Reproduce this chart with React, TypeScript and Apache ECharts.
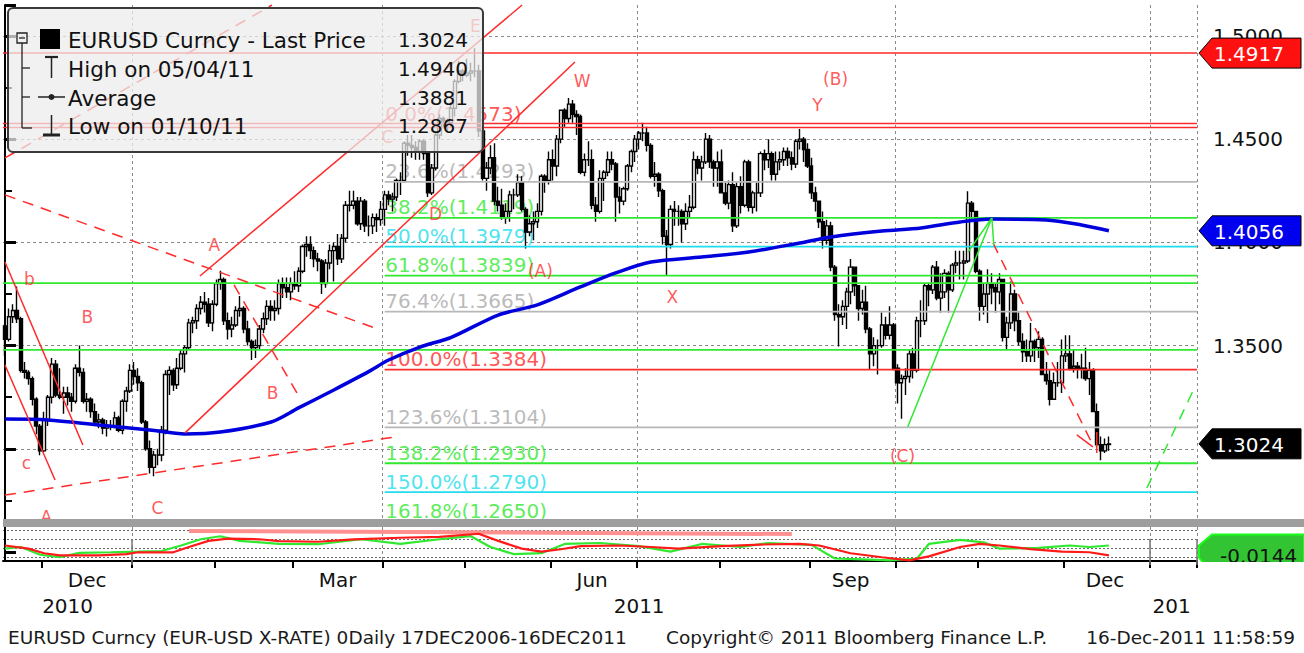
import React, { useEffect, useRef } from "react";
import * as echarts from "echarts";

const FONT_FAMILY = "DejaVu Sans";
const font = (px: number) => `${px}px "${FONT_FAMILY}"`;

// ---------- Daily EURUSD bars, each [open, high, low, close] ----------
const nov2010 = [
  [1.3595, 1.3605, 1.345, 1.353], [1.353, 1.368, 1.352, 1.364], [1.364, 1.37, 1.361, 1.367],
  [1.367, 1.3786, 1.361, 1.363], [1.363, 1.364, 1.337, 1.338], [1.338, 1.342, 1.334, 1.337],
  [1.337, 1.338, 1.331, 1.334], [1.334, 1.335, 1.321, 1.324], [1.324, 1.325, 1.307, 1.311],
  [1.311, 1.312, 1.2969, 1.299],
];
const dec2010 = [
  [1.299, 1.318, 1.2985, 1.314], [1.314, 1.326, 1.311, 1.325], [1.325, 1.344, 1.322, 1.341],
  [1.341, 1.343, 1.325, 1.326], [1.326, 1.339, 1.324, 1.325], [1.325, 1.33, 1.317, 1.327],
  [1.327, 1.33, 1.321, 1.325], [1.325, 1.327, 1.318, 1.323], [1.323, 1.341, 1.322, 1.339],
  [1.339, 1.35, 1.335, 1.337], [1.337, 1.339, 1.322, 1.323], [1.323, 1.327, 1.318, 1.324],
  [1.324, 1.325, 1.315, 1.318], [1.318, 1.322, 1.312, 1.313], [1.313, 1.317, 1.31, 1.314],
  [1.314, 1.315, 1.307, 1.31], [1.31, 1.314, 1.306, 1.311], [1.311, 1.314, 1.309, 1.311],
  [1.311, 1.318, 1.31, 1.315], [1.315, 1.316, 1.308, 1.309], [1.309, 1.324, 1.307, 1.323],
  [1.323, 1.33, 1.318, 1.328], [1.328, 1.341, 1.327, 1.338],
];
const jan2011 = [
  [1.338, 1.342, 1.331, 1.335], [1.335, 1.339, 1.328, 1.332], [1.332, 1.333, 1.312, 1.313],
  [1.313, 1.314, 1.299, 1.3], [1.3, 1.304, 1.288, 1.291], [1.291, 1.299, 1.2867, 1.297],
  [1.297, 1.3, 1.292, 1.297], [1.297, 1.311, 1.294, 1.309], [1.309, 1.338, 1.307, 1.336],
  [1.336, 1.34, 1.326, 1.338], [1.338, 1.339, 1.328, 1.331], [1.331, 1.344, 1.329, 1.339],
  [1.339, 1.348, 1.338, 1.346], [1.346, 1.35, 1.337, 1.349], [1.349, 1.363, 1.348, 1.361],
  [1.361, 1.364, 1.356, 1.362], [1.362, 1.37, 1.358, 1.368], [1.368, 1.374, 1.365, 1.371],
  [1.371, 1.376, 1.366, 1.37], [1.37, 1.373, 1.359, 1.361], [1.361, 1.372, 1.357, 1.37],
];
const feb2011 = [
  [1.37, 1.382, 1.369, 1.38], [1.38, 1.3862, 1.377, 1.382], [1.382, 1.383, 1.36, 1.362],
  [1.362, 1.366, 1.353, 1.358], [1.358, 1.364, 1.354, 1.36], [1.36, 1.369, 1.359, 1.367],
  [1.367, 1.374, 1.364, 1.368], [1.368, 1.369, 1.356, 1.358], [1.358, 1.362, 1.35, 1.352],
  [1.352, 1.353, 1.343, 1.349], [1.349, 1.353, 1.344, 1.35], [1.35, 1.36, 1.348, 1.358],
  [1.358, 1.366, 1.356, 1.363], [1.363, 1.372, 1.36, 1.369], [1.369, 1.372, 1.362, 1.367],
  [1.367, 1.372, 1.362, 1.368], [1.368, 1.382, 1.365, 1.38], [1.38, 1.383, 1.373, 1.378],
  [1.378, 1.383, 1.373, 1.376], [1.376, 1.383, 1.372, 1.38],
];
const mar2011 = [
  [1.38, 1.386, 1.377, 1.379], [1.379, 1.388, 1.376, 1.386], [1.386, 1.399, 1.385, 1.398],
  [1.398, 1.403, 1.393, 1.399], [1.399, 1.403, 1.392, 1.396], [1.396, 1.398, 1.388, 1.392],
  [1.392, 1.395, 1.386, 1.391], [1.391, 1.392, 1.375, 1.38], [1.38, 1.392, 1.378, 1.39],
  [1.39, 1.399, 1.387, 1.396], [1.396, 1.4, 1.381, 1.398], [1.398, 1.404, 1.389, 1.392],
  [1.392, 1.404, 1.39, 1.402], [1.402, 1.42, 1.4, 1.418], [1.418, 1.425, 1.415, 1.418],
  [1.418, 1.425, 1.416, 1.42], [1.42, 1.422, 1.408, 1.409], [1.409, 1.422, 1.406, 1.42],
  [1.42, 1.421, 1.405, 1.408], [1.408, 1.413, 1.403, 1.408], [1.408, 1.414, 1.404, 1.412],
  [1.412, 1.414, 1.405, 1.411], [1.411, 1.42, 1.408, 1.416],
];
const apr2011 = [
  [1.416, 1.425, 1.408, 1.423], [1.423, 1.425, 1.418, 1.421], [1.421, 1.424, 1.415, 1.422],
  [1.422, 1.431, 1.42, 1.43], [1.43, 1.434, 1.423, 1.43], [1.43, 1.449, 1.429, 1.448],
  [1.448, 1.452, 1.442, 1.447], [1.447, 1.452, 1.441, 1.446], [1.446, 1.449, 1.44, 1.444],
  [1.444, 1.45, 1.44, 1.449], [1.449, 1.45, 1.44, 1.443], [1.443, 1.443, 1.422, 1.424],
  [1.424, 1.438, 1.423, 1.436], [1.436, 1.454, 1.435, 1.452], [1.452, 1.462, 1.45, 1.46],
  [1.46, 1.461, 1.456, 1.459], [1.459, 1.46, 1.454, 1.458], [1.458, 1.468, 1.456, 1.465],
  [1.465, 1.479, 1.461, 1.478], [1.478, 1.488, 1.477, 1.483], [1.483, 1.484, 1.478, 1.481],
];
const may2011 = [
  [1.481, 1.489, 1.48, 1.482], [1.482, 1.487, 1.478, 1.483], [1.483, 1.494, 1.48, 1.483],
  [1.483, 1.486, 1.451, 1.454], [1.454, 1.456, 1.43, 1.431], [1.431, 1.439, 1.425, 1.436],
  [1.436, 1.447, 1.433, 1.441], [1.441, 1.448, 1.418, 1.42], [1.42, 1.427, 1.415, 1.418],
  [1.418, 1.426, 1.411, 1.412], [1.412, 1.419, 1.409, 1.415], [1.415, 1.425, 1.41, 1.423],
  [1.423, 1.426, 1.416, 1.423], [1.423, 1.433, 1.422, 1.429], [1.429, 1.432, 1.415, 1.416],
  [1.416, 1.417, 1.397, 1.405], [1.405, 1.413, 1.403, 1.409], [1.409, 1.415, 1.401, 1.41],
  [1.41, 1.419, 1.407, 1.415], [1.415, 1.433, 1.413, 1.432], [1.432, 1.433, 1.424, 1.43],
  [1.43, 1.444, 1.428, 1.44],
];
const jun2011 = [
  [1.44, 1.445, 1.43, 1.437], [1.437, 1.452, 1.432, 1.45], [1.45, 1.464, 1.448, 1.464],
  [1.464, 1.465, 1.456, 1.46], [1.46, 1.47, 1.458, 1.467], [1.467, 1.469, 1.458, 1.462],
  [1.462, 1.464, 1.452, 1.461], [1.461, 1.462, 1.433, 1.434], [1.434, 1.443, 1.432, 1.44],
  [1.44, 1.449, 1.437, 1.44], [1.44, 1.445, 1.416, 1.418], [1.418, 1.422, 1.41, 1.415],
  [1.415, 1.435, 1.414, 1.431], [1.431, 1.435, 1.42, 1.434], [1.434, 1.444, 1.432, 1.44],
  [1.44, 1.444, 1.435, 1.438], [1.438, 1.439, 1.41, 1.422], [1.422, 1.427, 1.414, 1.42],
  [1.42, 1.427, 1.418, 1.426], [1.426, 1.438, 1.425, 1.437], [1.437, 1.445, 1.434, 1.444],
  [1.444, 1.452, 1.439, 1.45],
];
const jul2011 = [
  [1.45, 1.454, 1.445, 1.453], [1.453, 1.458, 1.449, 1.453], [1.453, 1.456, 1.444, 1.447],
  [1.447, 1.448, 1.431, 1.432], [1.432, 1.439, 1.427, 1.433], [1.433, 1.434, 1.422, 1.425],
  [1.425, 1.426, 1.399, 1.403], [1.403, 1.406, 1.3837, 1.399], [1.399, 1.418, 1.397, 1.416],
  [1.416, 1.42, 1.408, 1.415], [1.415, 1.418, 1.408, 1.415], [1.415, 1.416, 1.4, 1.409],
  [1.409, 1.419, 1.406, 1.415], [1.415, 1.423, 1.412, 1.417], [1.417, 1.444, 1.416, 1.44],
  [1.44, 1.442, 1.433, 1.436], [1.436, 1.442, 1.43, 1.439], [1.439, 1.453, 1.438, 1.45],
  [1.45, 1.452, 1.436, 1.439], [1.439, 1.44, 1.427, 1.436], [1.436, 1.444, 1.427, 1.439],
];
const aug2011 = [
  [1.439, 1.445, 1.424, 1.424], [1.424, 1.429, 1.418, 1.419], [1.419, 1.43, 1.416, 1.428],
  [1.428, 1.434, 1.405, 1.408], [1.408, 1.429, 1.407, 1.427], [1.427, 1.432, 1.414, 1.418],
  [1.418, 1.44, 1.417, 1.439], [1.439, 1.44, 1.415, 1.417], [1.417, 1.425, 1.414, 1.424],
  [1.424, 1.429, 1.415, 1.424], [1.424, 1.444, 1.422, 1.443], [1.443, 1.445, 1.435, 1.44],
  [1.44, 1.45, 1.436, 1.443], [1.443, 1.444, 1.43, 1.433], [1.433, 1.444, 1.43, 1.439],
  [1.439, 1.444, 1.435, 1.44], [1.44, 1.446, 1.437, 1.444], [1.444, 1.446, 1.437, 1.441],
  [1.441, 1.444, 1.435, 1.438], [1.438, 1.45, 1.436, 1.449], [1.449, 1.4549, 1.445, 1.45],
  [1.45, 1.451, 1.439, 1.445], [1.445, 1.448, 1.436, 1.437],
];
const sep2011 = [
  [1.437, 1.441, 1.421, 1.424], [1.424, 1.427, 1.415, 1.42], [1.42, 1.42, 1.407, 1.41],
  [1.41, 1.415, 1.397, 1.401], [1.401, 1.411, 1.399, 1.408], [1.408, 1.41, 1.386, 1.388],
  [1.388, 1.389, 1.362, 1.365], [1.365, 1.37, 1.3495, 1.364], [1.364, 1.372, 1.36, 1.369],
  [1.369, 1.378, 1.358, 1.376], [1.376, 1.392, 1.37, 1.388], [1.388, 1.388, 1.374, 1.379],
  [1.379, 1.379, 1.362, 1.368], [1.368, 1.377, 1.365, 1.371], [1.371, 1.379, 1.356, 1.358],
  [1.358, 1.359, 1.3385, 1.346], [1.346, 1.354, 1.34, 1.35], [1.35, 1.353, 1.336, 1.35],
  [1.35, 1.366, 1.349, 1.36], [1.36, 1.364, 1.353, 1.355], [1.355, 1.369, 1.353, 1.36],
  [1.36, 1.361, 1.338, 1.339],
];
const oct2011 = [
  [1.339, 1.341, 1.322, 1.332], [1.332, 1.336, 1.3145, 1.334], [1.334, 1.339, 1.326, 1.335],
  [1.335, 1.348, 1.332, 1.346], [1.346, 1.349, 1.334, 1.338], [1.338, 1.364, 1.337, 1.362],
  [1.362, 1.372, 1.354, 1.362], [1.362, 1.38, 1.36, 1.379], [1.379, 1.38, 1.369, 1.377],
  [1.377, 1.389, 1.375, 1.388], [1.388, 1.391, 1.372, 1.373], [1.373, 1.385, 1.366, 1.376],
  [1.376, 1.387, 1.373, 1.385], [1.385, 1.386, 1.366, 1.377], [1.377, 1.39, 1.376, 1.389],
  [1.389, 1.396, 1.385, 1.39], [1.39, 1.396, 1.382, 1.39], [1.39, 1.396, 1.382, 1.391],
  [1.391, 1.4248, 1.39, 1.419], [1.419, 1.42, 1.411, 1.415], [1.415, 1.415, 1.385, 1.386],
];
const nov2011 = [
  [1.386, 1.387, 1.362, 1.369], [1.369, 1.38, 1.365, 1.375], [1.375, 1.387, 1.361, 1.38],
  [1.38, 1.385, 1.37, 1.378], [1.378, 1.38, 1.366, 1.376], [1.376, 1.385, 1.37, 1.382],
  [1.382, 1.382, 1.352, 1.354], [1.354, 1.364, 1.348, 1.361], [1.361, 1.381, 1.358, 1.375],
  [1.375, 1.377, 1.357, 1.362], [1.362, 1.366, 1.35, 1.352], [1.352, 1.356, 1.342, 1.347],
  [1.347, 1.353, 1.342, 1.345], [1.345, 1.361, 1.342, 1.352], [1.352, 1.353, 1.342, 1.349],
  [1.349, 1.357, 1.344, 1.353], [1.353, 1.354, 1.336, 1.336], [1.336, 1.342, 1.331, 1.333],
  [1.333, 1.338, 1.321, 1.324], [1.324, 1.337, 1.324, 1.332], [1.332, 1.342, 1.33, 1.332],
  [1.332, 1.353, 1.327, 1.345],
];
const dec2011 = [
  [1.345, 1.355, 1.342, 1.346], [1.346, 1.355, 1.338, 1.339], [1.339, 1.348, 1.337, 1.34],
  [1.34, 1.342, 1.334, 1.339], [1.339, 1.346, 1.334, 1.339], [1.339, 1.349, 1.333, 1.334],
  [1.334, 1.342, 1.326, 1.338], [1.338, 1.339, 1.318, 1.318], [1.318, 1.322, 1.301, 1.302],
  [1.302, 1.306, 1.2945, 1.299], [1.299, 1.305, 1.298, 1.302], [1.302, 1.306, 1.299, 1.3024],
];
const dailyBars = [
  ...nov2010, ...dec2010, ...jan2011, ...feb2011, ...mar2011, ...apr2011, ...may2011,
  ...jun2011, ...jul2011, ...aug2011, ...sep2011, ...oct2011, ...nov2011, ...dec2011,
];

// Moving average (blue): [day index, value]
const maPoints = [
  [0, 1.3144], [11, 1.314], [24, 1.3115], [37, 1.3091], [46, 1.3072], [55, 1.3081], [68, 1.313],
  [75, 1.3198], [84, 1.3285], [93, 1.3375], [98, 1.343], [106, 1.3493], [114, 1.3540],
  [126, 1.3648], [136, 1.3697], [147, 1.3784], [156, 1.3852], [165, 1.3905], [178, 1.3929],
  [190, 1.3953], [203, 1.3997], [211, 1.4026], [224, 1.4055], [234, 1.407], [244, 1.4099],
  [252, 1.4113], [266, 1.4109], [275, 1.4084], [282, 1.4056],
];

// Fibonacci retracement (drawn from 1 Apr 2011)
const FIB_START = 97;
const fibPercents = ["0.0%", "23.6%", "38.2%", "50.0%", "61.8%", "76.4%", "100.0%", "123.6%", "138.2%", "150.0%", "161.8%"];
const fibLevels = [1.4573, 1.4293, 1.4119, 1.3979, 1.3839, 1.3665, 1.3384, 1.3104, 1.293, 1.279, 1.265];

// Full-width horizontal lines
const redLevels = [1.4917, 1.4576, 1.4557];
const greenLevels = [1.3803, 1.3479];

// Trend lines [[dayIndex, value], [dayIndex, value]]
const redSolidTrends = [
  [[0, 1.3905], [19.9, 1.3018]],
  [[0, 1.3406], [12.8, 1.2849]],
  [[46, 1.3077], [145.6, 1.4874]],
  [[49.8, 1.3837], [132.1, 1.515]],
  [[273.8, 1.3067], [277.9, 1.3009]],
  [[278.9, 1.3081], [278.9, 1.298]],
];
const redDashedTrends = [
  [[0, 1.423], [94.5, 1.3585]],
  [[0, 1.2776], [99.6, 1.3057]],
  [[58.5, 1.3794], [74.6, 1.327]],
  [[0, 1.4409], [68.2, 1.515]],
  [[252.4, 1.3997], [277.9, 1.3018]],
];
const greenSolidTrends = [
  [[230.6, 1.3106], [252.1, 1.4118]],
  [[246, 1.3953], [252.1, 1.4118]],
  [[252.1, 1.4118], [252.6, 1.3987]],
];
const greenDashedTrends = [[[291.7, 1.281], [304.2, 1.3309]]];

// Elliott wave labels [text, dayIndex, value]
const waveLabels: [string, number, number][] = [
  ["E", 120.3, 1.5048], ["W", 147.6, 1.4777], ["(B)", 212.3, 1.4787], ["Y", 207.7, 1.4661],
  ["A", 53.6, 1.3983], ["b", 6.4, 1.3818], ["B", 21.2, 1.3634], ["D", 110.1, 1.4133],
  ["(A)", 136.9, 1.3857], ["X", 170.6, 1.3735], ["B", 68.5, 1.327], ["c", 5.6, 1.2931],
  ["C", 39.1, 1.2713], ["A", 10.7, 1.2665], ["C", 97.8, 1.4506], ["(C)", 229.4, 1.2965],
];

// Lower oscillator panel [dayIndex, value]
const oscGreen = [
  [0, -0.0213], [4, -0.0178], [9, -0.035], [14, -0.0405], [19, -0.0309], [27, -0.0295],
  [34, -0.0282], [40, -0.0268], [45, -0.0144], [50, -0.0006], [55, 0.0062], [60, -0.0041],
  [70, -0.011], [80, -0.0116], [91, -0.0006], [101, -0.011], [111, -0.0006], [119, 0.0062],
  [124, -0.0178], [130, -0.0337], [137, -0.0316], [143, -0.011], [152, -0.0089], [162, -0.0158],
  [170, -0.0282], [178, -0.011], [188, -0.0178], [195, -0.0089], [206, -0.013], [212, -0.0433],
  [219, -0.0454], [226, -0.0474], [233, -0.0433], [236, -0.011], [244, -0.002], [250, -0.0075],
  [254, -0.0213], [264, -0.0199], [272, -0.0144], [277, -0.0178], [282, -0.0144],
];
const oscRed = [
  [0, -0.0144], [6, -0.0213], [10, -0.0316], [14, -0.0364], [24, -0.0364], [31, -0.0337],
  [34, -0.0295], [43, -0.0295], [47, -0.0178], [52, -0.0041], [57, 0.0007], [65, -0.0006],
  [70, -0.0048], [80, -0.0061], [89, -0.0006], [101, 0.0028], [111, 0.0049], [121, 0.0117],
  [126, -0.0041], [132, -0.0213], [137, -0.0282], [142, -0.0227], [147, -0.0158], [157, -0.0144],
  [165, -0.0178], [172, -0.0213], [183, -0.0158], [193, -0.0123], [203, -0.011], [208, -0.0144],
  [216, -0.0316], [224, -0.0405], [231, -0.0474], [236, -0.0385], [244, -0.0178], [249, -0.011],
  [254, -0.0144], [262, -0.0227], [270, -0.0282], [277, -0.0295], [282, -0.0364],
];
const oscBand = [[47, 0.0178], [201, 0.0111]];

const legendAverage = 1.3881;
const yearLabelText: Record<string, string> = { "2010": "2010", "2011": "2011", "2012": "201" };
const monthNames = ["Jan", "Feb", "Mar", "Apr", "May", "Jun", "Jul", "Aug", "Sep", "Oct", "Nov", "Dec"];
const FIRST_DATE = "2010-11-17";
const AXIS_DAYS = 305;

// ---------- derived ----------
function weekdays(start: string, count: number): string[] {
  const out: string[] = [];
  let t = Date.parse(start + "T00:00:00Z");
  while (out.length < count) {
    const d = new Date(t);
    const wd = d.getUTCDay();
    if (wd !== 0 && wd !== 6) out.push(d.toISOString().slice(0, 10));
    t += 86400000;
  }
  return out;
}
const dates = weekdays(FIRST_DATE, AXIS_DAYS);
const monthStarts = new Set<number>();
const quarterStarts = new Set<number>();
const yearStarts = new Set<number>();
const monthRanges: Record<string, number[]> = {};
const yearRanges: Record<string, number[]> = {};
dates.forEach((d, i) => {
  const ym = d.slice(0, 7);
  const y = d.slice(0, 4);
  if (!monthRanges[ym]) monthRanges[ym] = [i, i]; else monthRanges[ym][1] = i;
  if (!yearRanges[y]) yearRanges[y] = [i, i]; else yearRanges[y][1] = i;
  if (i > 0 && ym !== dates[i - 1].slice(0, 7)) {
    monthStarts.add(i);
    const m = +d.slice(5, 7);
    if ((m - 1) % 3 === 0) quarterStarts.add(i);
    if (m === 1) yearStarts.add(i);
  }
});
const monthLabelIdx = new Set<number>();
Object.keys(monthRanges).forEach((ym) => {
  const m = +ym.slice(5, 7);
  const [a, b] = monthRanges[ym];
  if (m % 3 === 0) monthLabelIdx.add(Math.floor((a + b) / 2));
});
const yearLabelIdx = new Set<number>();
Object.keys(yearRanges).forEach((y) => {
  const [a, b] = yearRanges[y];
  yearLabelIdx.add(Math.floor((a + b) / 2));
});

const RED = "#ff2a2a";
const GREEN = "#30e830";
const CYAN = "#20dcec";
const GRAY_LINE = "#b8b8b8";
const GRAY_TEXT = "#a8a8a8";
const fibColor: Record<string, string> = {
  "0.0%": RED, "23.6%": GRAY_TEXT, "38.2%": GREEN, "50.0%": CYAN, "61.8%": GREEN, "76.4%": GRAY_TEXT,
  "100.0%": RED, "123.6%": GRAY_TEXT, "138.2%": GREEN, "150.0%": CYAN, "161.8%": GREEN,
};
const fibLineColor = (p: string) => (fibColor[p] === GRAY_TEXT ? GRAY_LINE : fibColor[p]);

function fmtDate(d: string) {
  return `${d.slice(5, 7)}/${d.slice(8, 10)}/${d.slice(2, 4)}`;
}

function buildOption(): any {
  const candles = dailyBars.map(([o, h, l, c]) => [o, c, l, h]);
  const series: any[] = [];
  series.push({
    type: "candlestick", xAxisIndex: 0, yAxisIndex: 0, data: candles, barWidth: 3.6, z: 2, silent: true,
    itemStyle: { color: "#ffffff", color0: "#000000", borderColor: "#000000", borderColor0: "#000000", borderWidth: 1.4 },
  });
  const line = (data: any[], color: string, dashed: boolean, width: number, z: number, xi = 3, yi = 0) => ({
    type: "line", xAxisIndex: xi, yAxisIndex: yi, data, showSymbol: false, symbol: "none", silent: true, z,
    lineStyle: { color, width, type: dashed ? [11, 8] : "solid" },
  });
  redLevels.forEach((v) => series.push(line([[-0.5, v], [AXIS_DAYS - 0.5, v]], RED, false, 1.5, 3)));
  greenLevels.forEach((v) => series.push(line([[-0.5, v], [AXIS_DAYS - 0.5, v]], GREEN, false, 1.8, 3)));
  fibLevels.forEach((v, i) => {
    if (i === 0) return;
    series.push(line([[FIB_START, v], [AXIS_DAYS - 0.5, v]], fibLineColor(fibPercents[i]), false, 1.8, 3));
  });
  series.push({
    type: "scatter", xAxisIndex: 3, yAxisIndex: 0, symbolSize: 1, silent: true, z: 1,
    itemStyle: { color: "rgba(0,0,0,0)" },
    data: fibLevels.map((v, i) => ({
      value: [FIB_START, v],
      label: {
        show: true, position: [0, 0], align: "left", verticalAlign: "bottom", offset: [1, 0],
        formatter: `${fibPercents[i]}(${v.toFixed(4)})`, color: fibColor[fibPercents[i]],
        fontSize: 20, fontFamily: FONT_FAMILY,
      },
    })),
  });
  series.push({
    ...line(maPoints, "#0000dd", false, 3.5, 4), smooth: 0.3,
  });
  redSolidTrends.forEach((d) => series.push(line(d, RED, false, 1.5, 5)));
  redDashedTrends.forEach((d) => series.push(line(d, RED, true, 1.5, 5)));
  greenSolidTrends.forEach((d) => series.push(line(d, GREEN, false, 1.5, 5)));
  greenDashedTrends.forEach((d) => series.push(line(d, GREEN, true, 1.5, 5)));
  series.push({
    type: "scatter", xAxisIndex: 3, yAxisIndex: 0, symbolSize: 1, silent: true, z: 6,
    itemStyle: { color: "rgba(0,0,0,0)" },
    data: waveLabels.map(([t, x, v]) => ({
      value: [x, v],
      label: {
        show: true, position: [0, 0], align: "center", verticalAlign: "middle", formatter: t,
        color: "#ff3030", fontSize: 17, fontFamily: FONT_FAMILY,
      },
    })),
  });
  // lower panel
  series.push(line(oscBand, "#ff9090", false, 4, 2, 4, 1));
  series.push(line(oscGreen, GREEN, false, 2.2, 3, 4, 1));
  series.push(line(oscRed, "#ff1a1a", false, 2.2, 4, 4, 1));

  const dashed = { color: "#8a8a8a", type: [3, 3], width: 1 };
  return {
    animation: false,
    backgroundColor: "#ffffff",
    textStyle: { fontFamily: FONT_FAMILY },
    grid: [
      { left: 3, top: 5, width: 1194, height: 547 },
      { left: 3, top: 527, width: 1194, height: 34 },
    ],
    xAxis: [
      {
        type: "category", gridIndex: 0, data: dates, boundaryGap: true,
        axisLine: { show: false }, axisTick: { show: false }, axisLabel: { show: false },
        splitLine: { show: true, interval: (i: number) => quarterStarts.has(i), lineStyle: dashed },
      },
      {
        type: "category", gridIndex: 1, data: dates, boundaryGap: true, position: "bottom",
        axisLine: { show: true, onZero: false, lineStyle: { color: "#000", width: 2 } },
        axisTick: { show: true, interval: (i: number) => monthStarts.has(i), length: 7, lineStyle: { color: "#000", width: 2 } },
        axisLabel: {
          show: true, interval: (i: number) => monthLabelIdx.has(i), margin: 9,
          formatter: (v: string) => monthNames[+v.slice(5, 7) - 1], fontSize: 20, color: "#111", fontFamily: FONT_FAMILY,
        },
        splitLine: { show: true, interval: (i: number) => quarterStarts.has(i), lineStyle: dashed },
      },
      {
        type: "category", gridIndex: 1, data: dates, boundaryGap: true, position: "bottom", offset: 30,
        axisLine: { show: false },
        axisTick: { show: true, interval: (i: number) => yearStarts.has(i), length: 26, lineStyle: { color: "#777", width: 1.5 } },
        axisLabel: {
          show: true, interval: (i: number) => yearLabelIdx.has(i), margin: 5,
          formatter: (v: string) => yearLabelText[v.slice(0, 4)], fontSize: 20, color: "#111", fontFamily: FONT_FAMILY,
        },
        splitLine: { show: false },
      },
      { type: "value", gridIndex: 0, min: -0.5, max: AXIS_DAYS - 0.5, show: false },
      { type: "value", gridIndex: 1, min: -0.5, max: AXIS_DAYS - 0.5, show: false },
    ],
    yAxis: [
      {
        type: "value", gridIndex: 0, position: "right", min: 1.25, max: 1.515, interval: 0.05, scale: true,
        axisLine: { show: true, lineStyle: { color: "#000", width: 2 } },
        axisTick: { show: true, length: 11, lineStyle: { color: "#000", width: 3 } },
        minorTick: { show: true, splitNumber: 2, length: 7, lineStyle: { color: "#000", width: 2 } },
        axisLabel: {
          show: true, margin: 16, fontSize: 20, color: "#111", fontFamily: FONT_FAMILY,
          formatter: (v: number) => v.toFixed(4), showMinLabel: false, showMaxLabel: false,
        },
        splitLine: { show: true, showMinLine: false, showMaxLine: false, lineStyle: { color: "#8a8a8a", type: [3, 3], width: 1 } },
      },
      {
        type: "value", gridIndex: 1, position: "right", min: -0.0489, max: 0.0267, splitNumber: 4,
        axisLine: { show: true, lineStyle: { color: "#000", width: 2 } },
        axisTick: { show: false }, axisLabel: { show: false },
        splitLine: { show: true, showMinLine: false, showMaxLine: false, lineStyle: { color: "#666", type: [2, 2], width: 1 } },
      },
    ],
    series,
  };
}

function buildGraphics(chart: any): any[] {
  const yMain = (v: number) => chart.convertToPixel({ yAxisIndex: 0 }, v) as number;
  const yLow = (v: number) => chart.convertToPixel({ yAxisIndex: 1 }, v) as number;
  const els: any[] = [];
  const txt = (text: string, x: number, y: number, size: number, fill = "#111", align = "left", z = 102) => ({
    type: "text", z, silent: true,
    style: { text, x, y, fill, font: font(size), textAlign: align, textVerticalAlign: "middle" },
  });
  const ln = (x1: number, y1: number, x2: number, y2: number, w: number, c = "#222", z = 102) => ({
    type: "line", z, silent: true, shape: { x1, y1, x2, y2 }, style: { stroke: c, lineWidth: w },
  });
  // separator bar between panels
  els.push({ type: "rect", z: 100, silent: true, shape: { x: 3, y: 519, width: 1301, height: 8 }, style: { fill: "#9e9e9e" } });

  // legend box
  els.push({
    type: "rect", z: 101, silent: true, shape: { x: 8, y: 8, width: 475, height: 144, r: 5 },
    style: { fill: "rgba(236,236,236,0.74)", stroke: "#3a3a3a", lineWidth: 2 },
  });
  const r1 = 39, r2 = 68, r3 = 97, r4 = 125;
  els.push({ type: "rect", z: 102, silent: true, shape: { x: 17, y: r1 - 6, width: 10, height: 10 }, style: { fill: "none", stroke: "#222", lineWidth: 1.3 } });
  els.push(ln(19, r1 - 1, 25, r1 - 1, 1.3));
  els.push(ln(22, r1 + 4, 22, r4 + 3, 1.3));
  els.push(ln(22, r2, 30, r2, 1.3));
  els.push(ln(22, r3, 30, r3, 1.3));
  els.push(ln(22, r4 + 3, 32, r4 + 3, 1.3));
  els.push({ type: "rect", z: 102, silent: true, shape: { x: 40, y: r1 - 10, width: 20, height: 20 }, style: { fill: "#000" } });
  els.push(ln(45, r2 - 11, 58, r2 - 11, 2.2));
  els.push(ln(51.5, r2 - 11, 51.5, r2 + 10, 1.5));
  els.push(ln(38, r3, 65, r3, 1.5));
  els.push({ type: "circle", z: 102, silent: true, shape: { cx: 51.5, cy: r3, r: 3 }, style: { fill: "#222" } });
  els.push(ln(51.5, r4 - 10, 51.5, r4 + 9, 1.5));
  els.push(ln(43, r4 + 10, 60, r4 + 10, 3));

  const closes = dailyBars.map((b) => b[3]);
  const highs = dailyBars.map((b) => b[1]);
  const lows = dailyBars.map((b) => b[2]);
  const hiIdx = highs.indexOf(Math.max(...highs));
  const loIdx = lows.indexOf(Math.min(...lows));
  const last = closes[closes.length - 1];
  const rows: [string, string, number][] = [
    ["EURUSD Curncy - Last Price", last.toFixed(4), r1],
    [`High on ${fmtDate(dates[hiIdx])}`, highs[hiIdx].toFixed(4), r2],
    ["Average", legendAverage.toFixed(4), r3],
    [`Low on ${fmtDate(dates[loIdx])}`, lows[loIdx].toFixed(4), r4],
  ];
  rows.forEach(([label, value, y]) => {
    els.push(txt(label, 68, y + 1, 21.5));
    els.push(txt(value, 398, y + 1, 20));
  });

  // value tags on the right axis
  const tag = (y: number, fill: string, label: string, textFill: string) => {
    els.push({
      type: "polygon", z: 120, silent: true,
      shape: { points: [[1199, y], [1212, y - 15], [1301, y - 15], [1301, y + 15], [1212, y + 15]] },
      style: { fill, stroke: "#000", lineWidth: 1 },
    });
    els.push(txt(label, 1214, y + 1, 20, textFill, "left", 121));
  };
  tag(yMain(redLevels[0]), "#ff1010", redLevels[0].toFixed(4), "#ffffff");
  tag(yMain(maPoints[maPoints.length - 1][1]), "#0000ee", maPoints[maPoints.length - 1][1].toFixed(4), "#ffffff");
  tag(yMain(last), "#000000", last.toFixed(4), "#ffffff");
  const gy = yLow(oscGreen[oscGreen.length - 1][1]);
  els.push({
    type: "polygon", z: 120, silent: true,
    shape: { points: [[1199, gy], [1212, gy - 11], [1304, gy - 11], [1304, 575], [1212, 575], [1199, gy + 12]] },
    style: { fill: "#33c433", stroke: "#18ff18", lineWidth: 2 },
  });
  els.push(txt(oscGreen[oscGreen.length - 1][1].toFixed(4), 1220, gy + 11, 20, "#111", "left", 121));
  els.push({ type: "rect", z: 125, silent: true, shape: { x: 1198, y: 562, width: 106, height: 14 }, style: { fill: "#ffffff" } });

  // footer
  els.push(txt("EURUSD Curncy (EUR-USD X-RATE) 0Daily 17DEC2006-16DEC2011", 8, 637, 18.5, "#1a1a1a"));
  els.push(txt("Copyright\u00a9 2011 Bloomberg Finance L.P.", 666, 637, 18.5, "#1a1a1a"));
  els.push(txt("16-Dec-2011 11:58:59", 1295, 637, 18.5, "#1a1a1a", "right"));
  return els;
}

export default function App() {
  const ref = useRef<HTMLDivElement | null>(null);
  useEffect(() => {
    document.body.style.margin = "0";
    const el = ref.current as HTMLDivElement;
    const chart = echarts.init(el, null, { renderer: "svg" });
    chart.setOption(buildOption());
    chart.setOption({ graphic: { elements: buildGraphics(chart) } });
    return () => chart.dispose();
  }, []);
  return <div ref={ref} style={{ width: 1304, height: 653 }} />;
}
